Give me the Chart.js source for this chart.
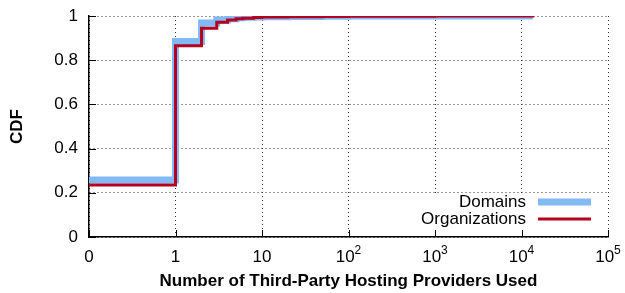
<!DOCTYPE html>
<html>
<head>
<meta charset="utf-8">
<script src="https://cdn.jsdelivr.net/npm/chart.js@4/dist/chart.umd.min.js"></script>
<style>
  html, body { margin: 0; padding: 0; background: #fff; }
  #wrap { width: 625px; height: 293px; }
</style>
</head>
<body>
<div id="wrap"><canvas id="cdfChart" width="625" height="293"></canvas></div>
<script>
// number of providers (0 is drawn one decade left of 1)
var providers = [0, 1, 2, 3, 4, 5, 6, 8, 10, 20, 50, 100, 1000, 13500];
var domainsCdf = [0.258, 0.885, 0.968, 0.982, 0.988, 0.992, 0.994, 0.996, 0.997, 0.998, 0.999, 0.9995, 1, 1];
var orgsCdf    = [0.235, 0.865, 0.945, 0.972, 0.982, 0.987, 0.990, 0.993, 0.995, 0.997, 0.998, 0.999, 0.9995, 1];
// tick labels: base text and exponent (drawn raised)
var xTickBase = ['0', '1', '10', '10', '10', '10', '10'];
var xTickExp  = ['', '', '', '2', '3', '4', '5'];
var yTickLabels = ['0', '0.2', '0.4', '0.6', '0.8', '1'];
var seriesNames = ['Domains', 'Organizations'];

function toPos(v) {
    return v === 0 ? -1 : Math.log10(v);
}

function makePoints(vals) {
    return providers.map(function (p, i) { return { x: toPos(p), y: vals[i] }; });
}

var blue = '#82BAF6';
var red = '#B5001E';
var fontFam = '"Liberation Sans", Arial, sans-serif';

// legend box, x labels with superscripts, inward ticks like gnuplot
var gnuplotBits = {
    id: 'gnuplotBits',
    beforeDatasetsDraw: function (chart) {
        var ctx = chart.ctx;
        ctx.save();
        ctx.fillStyle = '#fff';
        ctx.fillRect(388, 193, 214, chart.chartArea.bottom - 194);
        ctx.restore();
    },
    afterDraw: function (chart) {
        var ctx = chart.ctx;
        var xs = chart.scales.x, ys = chart.scales.y;
        var area = chart.chartArea;
        ctx.save();
        ctx.strokeStyle = '#000';
        ctx.lineWidth = 1;
        ctx.beginPath();
        xs.ticks.forEach(function (t, i) {
            var px = Math.round(xs.getPixelForTick(i)) + 0.5;
            ctx.moveTo(px, area.bottom);
            ctx.lineTo(px, area.bottom - 7);
        });
        ys.ticks.forEach(function (t, i) {
            var py = Math.round(ys.getPixelForTick(i)) + 0.5;
            ctx.moveTo(area.left, py);
            ctx.lineTo(area.left + 7, py);
        });
        ctx.stroke();

        // x tick labels
        ctx.fillStyle = '#000';
        ctx.textBaseline = 'alphabetic';
        ctx.textAlign = 'left';
        xs.ticks.forEach(function (t, i) {
            var px = xs.getPixelForTick(i);
            ctx.font = '17px ' + fontFam;
            var wb = ctx.measureText(xTickBase[i]).width;
            ctx.font = '12px ' + fontFam;
            var we = xTickExp[i] ? ctx.measureText(xTickExp[i]).width : 0;
            var x0 = px - (wb + we) / 2;
            ctx.font = '17px ' + fontFam;
            ctx.fillText(xTickBase[i], x0, 262);
            if (xTickExp[i]) {
                ctx.font = '12px ' + fontFam;
                ctx.fillText(xTickExp[i], x0 + wb, 254);
            }
        });

        // legend
        ctx.font = '17px ' + fontFam;
        ctx.textAlign = 'right';
        ctx.textBaseline = 'middle';
        ctx.fillText(seriesNames[0], 526, 202);
        ctx.fillText(seriesNames[1], 526, 219);
        ctx.lineCap = 'butt';
        ctx.strokeStyle = blue;
        ctx.lineWidth = 7;
        ctx.beginPath(); ctx.moveTo(538, 202); ctx.lineTo(591, 202); ctx.stroke();
        ctx.strokeStyle = red;
        ctx.lineWidth = 3;
        ctx.beginPath(); ctx.moveTo(538, 219); ctx.lineTo(591, 219); ctx.stroke();
        ctx.restore();
    }
};

var ctx = document.getElementById('cdfChart').getContext('2d');
var cdfChart = new Chart(ctx, {
    type: 'line',
    data: {
        datasets: [{
            label: seriesNames[0],
            data: makePoints(domainsCdf),
            borderColor: blue,
            borderWidth: 7,
            stepped: 'before',
            pointRadius: 0,
            fill: false,
            order: 2
        }, {
            label: seriesNames[1],
            data: makePoints(orgsCdf),
            borderColor: red,
            borderWidth: 3,
            stepped: 'before',
            pointRadius: 0,
            fill: false,
            order: 1
        }]
    },
    options: {
        responsive: false,
        animation: false,
        layout: { padding: { left: 0, right: 17, top: 16, bottom: 0 } },
        plugins: {
            legend: { display: false },
            tooltip: { enabled: false }
        },
        scales: {
            x: {
                type: 'linear',
                min: -1,
                max: 5,
                afterFit: function (scale) {
                    scale.height = 56;
                    scale.paddingLeft = 0;
                    scale.paddingRight = 0;
                },
                afterBuildTicks: function (scale) {
                    scale.ticks = xTickBase.map(function (l, i) { return { value: i - 1 }; });
                },
                ticks: { display: false, autoSkip: false },
                grid: { color: '#333', lineWidth: 1, drawTicks: false },
                border: { color: '#000', width: 1.5, dash: [1, 3] },
                title: {
                    display: true,
                    text: 'Number of Third-Party Hosting Providers Used',
                    color: '#000',
                    padding: { top: 0, bottom: 1 },
                    font: { family: fontFam, size: 17, weight: 'bold' }
                }
            },
            y: {
                min: 0,
                max: 1,
                afterFit: function (scale) {
                    scale.width = 89;
                    scale.paddingTop = 0;
                    scale.paddingBottom = 0;
                },
                ticks: {
                    stepSize: 0.2,
                    padding: 11,
                    color: '#000',
                    font: { family: fontFam, size: 17 },
                    callback: function (v, i) { return yTickLabels[i]; }
                },
                grid: { color: '#333', lineWidth: 1, drawTicks: false },
                border: { color: '#000', width: 1.5, dash: [1, 3] },
                title: {
                    display: true,
                    text: 'CDF',
                    color: '#000',
                    padding: { top: 7, bottom: 0 },
                    font: { family: fontFam, size: 17, weight: 'bold' }
                }
            }
        }
    },
    plugins: [gnuplotBits]
});
</script>
</body>
</html>
